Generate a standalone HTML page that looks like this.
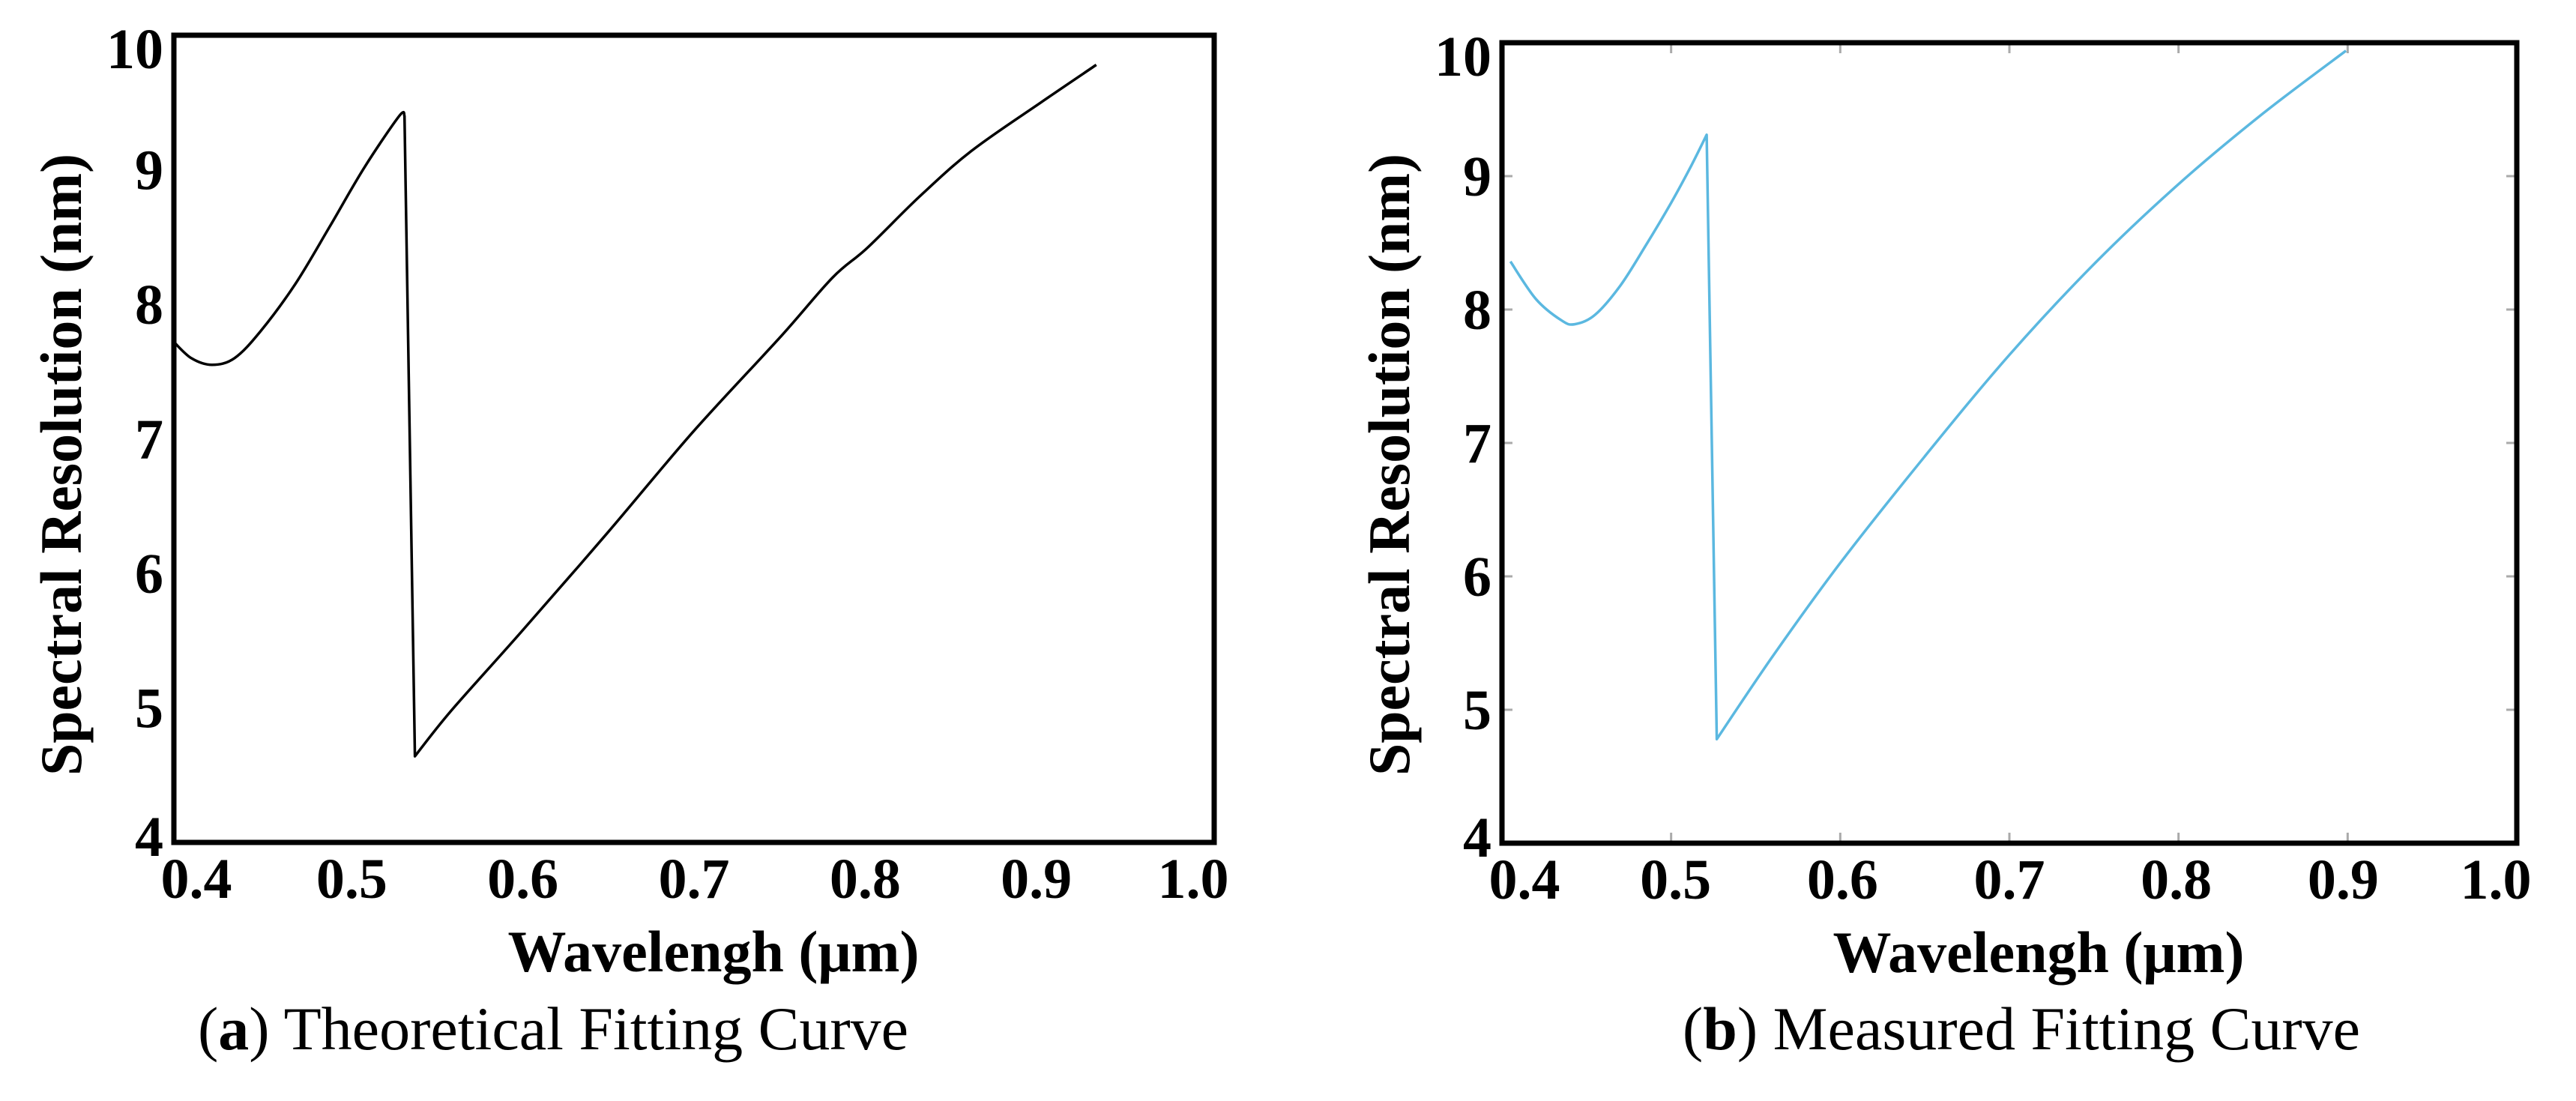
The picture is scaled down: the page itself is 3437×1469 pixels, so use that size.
<!DOCTYPE html>
<html><head><meta charset="utf-8"><style>
html,body{margin:0;padding:0;background:#fff;}
svg{display:block;}
text{font-family:"Liberation Serif",serif;}
</style></head><body>
<svg id="fig" width="3437" height="1469" viewBox="0 0 3437 1469" xmlns="http://www.w3.org/2000/svg"></svg>
<script>
const xTicks = [0.4,0.5,0.6,0.7,0.8,0.9,1.0];
const xTickLabels = ["0.4","0.5","0.6","0.7","0.8","0.9","1.0"];
const yTicks = [4,5,6,7,8,9,10];
const yTickLabels = ["4","5","6","7","8","9","10"];
const theoX = [0.400,0.410,0.422,0.435,0.450,0.470,0.490,0.510,0.530,0.533,0.539,0.560,0.600,0.650,0.700,0.750,0.780,0.800,0.830,0.860,0.900,0.932];
const theoY = [7.72,7.60,7.55,7.60,7.80,8.15,8.58,9.02,9.40,9.40,4.64,4.98,5.56,6.30,7.06,7.76,8.20,8.42,8.80,9.14,9.50,9.78];
const measX = [0.405,0.420,0.435,0.443,0.455,0.470,0.485,0.500,0.512,0.521,0.527,0.560,0.600,0.650,0.700,0.750,0.800,0.850,0.899];
const measY = [8.36,8.08,7.92,7.89,7.96,8.18,8.48,8.80,9.08,9.31,4.78,5.40,6.10,6.90,7.66,8.34,8.94,9.47,9.94];

const NS="http://www.w3.org/2000/svg";
const svg=document.getElementById('fig');
function mk(tag,attrs,parent){const e=document.createElementNS(NS,tag);for(const k in attrs)e.setAttribute(k,attrs[k]);(parent||svg).appendChild(e);return e;}

function smoothPath(P){
  // split into segments at large jumps, Catmull-Rom within each
  const segs=[];let cur=[P[0]];
  for(let i=1;i<P.length;i++){
    if(Math.abs(P[i][1]-P[i-1][1])>300){segs.push(cur);cur=[P[i]];}
    else cur.push(P[i]);
  }
  segs.push(cur);
  let d='M'+P[0][0].toFixed(1)+','+P[0][1].toFixed(1);
  segs.forEach((s,si)=>{
    if(si>0) d+=' L'+s[0][0].toFixed(1)+','+s[0][1].toFixed(1);
    for(let i=0;i<s.length-1;i++){
      const p0=s[Math.max(0,i-1)],p1=s[i],p2=s[i+1],p3=s[Math.min(s.length-1,i+2)];
      const c1=[p1[0]+(p2[0]-p0[0])/6,p1[1]+(p2[1]-p0[1])/6];
      const c2=[p2[0]-(p3[0]-p1[0])/6,p2[1]-(p3[1]-p1[1])/6];
      d+=' C'+c1.map(v=>v.toFixed(1)).join(',')+' '+c2.map(v=>v.toFixed(1)).join(',')+' '+p2[0].toFixed(1)+','+p2[1].toFixed(1);
    }
  });
  return d;
}

function panel(cfg){
  const g=mk('g',{});
  
  
  const L=cfg.l,R=cfg.r,T=cfg.t,B=cfg.b;
  const sx=v=>L+(v-0.4)/(1.0-0.4)*(R-L);
  const sy=v=>B-(v-4)/(10-4)*(B-T);
  if(cfg.ticks){
    xTicks.slice(1,-1).forEach(v=>{
      const t1=mk('line',{x1:sx(v),x2:sx(v),y1:B,y2:B-14,stroke:'#aaa','stroke-width':3},g);
      
      
      const t2=mk('line',{x1:sx(v),x2:sx(v),y1:T,y2:T+14,stroke:'#aaa','stroke-width':3},g);
      
      
    });
    yTicks.slice(1,-1).forEach(v=>{
      const t1=mk('line',{x1:L,x2:L+14,y1:sy(v),y2:sy(v),stroke:'#aaa','stroke-width':3},g);
      
      
      const t2=mk('line',{x1:R,x2:R-14,y1:sy(v),y2:sy(v),stroke:'#aaa','stroke-width':3},g);
      
      
    });
  }
  const frame=mk('rect',{x:L,y:T,width:R-L,height:B-T,fill:'none',stroke:'#000','stroke-width':7},g);
  
  
  const P=cfg.xs.map((x,i)=>[sx(x),sy(cfg.ys[i])]);
  const line=mk('path',{d:smoothPath(P),fill:'none',stroke:cfg.color,'stroke-width':3.5,'stroke-linejoin':'round'},g);
  
  
  xTicks.forEach((v,i)=>{
    const off = i===0?30:(i===6?-28:(i-3)*-3);
    const t=mk('text',{x:sx(v)+off,y:B+74,'font-size':76,'font-weight':'bold','text-anchor':'middle'},g);
    t.textContent=xTickLabels[i];
    
    
  });
  yTicks.forEach((v,i)=>{
    const t=mk('text',{x:L-14,y:sy(v)+26+(i===0?-8:0)+(i===6?18:0),'font-size':76,'font-weight':'bold','text-anchor':'end'},g);
    t.textContent=yTickLabels[i];
    
    
  });
  const xt=mk('text',{x:cfg.xtx,y:B+172,'font-size':78,'font-weight':'bold','text-anchor':'middle'},g);
  xt.textContent='Wavelengh (μm)';
  
  
  const yt=mk('text',{x:0,y:0,'font-size':78,'font-weight':'bold','text-anchor':'middle',textLength:cfg.ylen,lengthAdjust:'spacingAndGlyphs',transform:`translate(${cfg.ytx},${cfg.yty}) rotate(-90)`},g);
  yt.textContent='Spectral Resolution (nm)';
  
  
  const cap=mk('text',{x:cfg.capx,y:1400,'font-size':82,'text-anchor':'middle'},g);
  cap.innerHTML='(<tspan font-weight="bold">'+cfg.letter+'</tspan>) '+cfg.caption;
  
  
}
panel({name:'panel-a-theoretical',l:232,r:1620,t:47,b:1124,xs:theoX,ys:theoY,color:'#000',ticks:false,xtx:952,ytx:108,yty:620,ylen:830,capx:738,letter:'a',caption:'Theoretical Fitting Curve'});
panel({name:'panel-b-measured',l:2004,r:3358,t:57,b:1125,xs:measX,ys:measY,color:'#5bb8e0',ticks:true,xtx:2720,ytx:1880,yty:620,ylen:830,capx:2697,letter:'b',caption:'Measured Fitting Curve'});
</script>
</body></html>
